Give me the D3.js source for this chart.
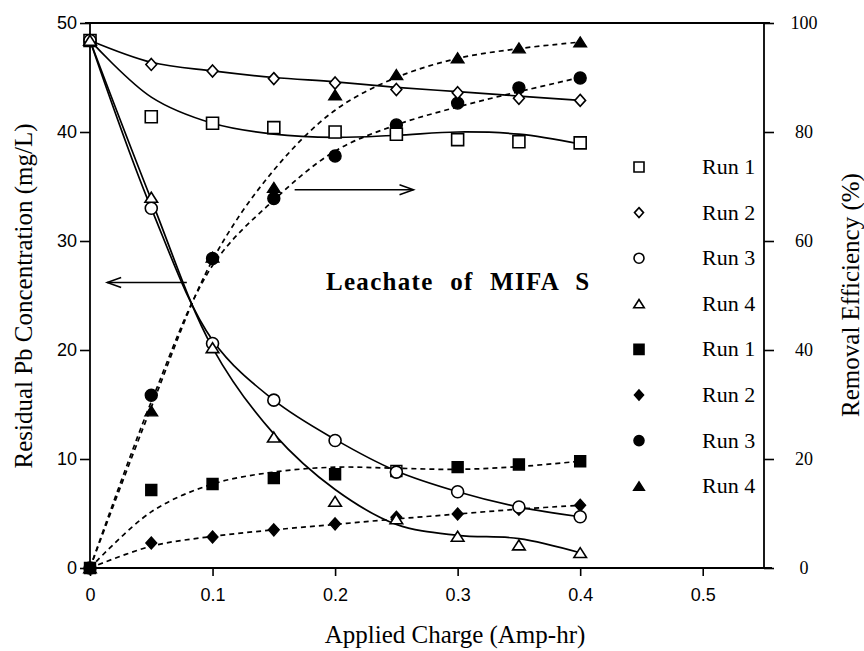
<!DOCTYPE html>
<html>
<head>
<meta charset="utf-8">
<script src="https://cdn.jsdelivr.net/npm/d3@7"></script>
<style>
  body { margin: 0; background: #fff; }
  svg { display: block; }
</style>
</head>
<body>
<div id="chart"></div>
<script>
// ---------------- data ----------------
const charge = [0, 0.05, 0.1, 0.15, 0.2, 0.25, 0.3, 0.35, 0.4];

// residual Pb (mg/L), left axis, open markers
const res1 = [48.4, 41.4, 40.8, 40.4, 40.0, 39.8, 39.3, 39.1, 39.0];
const res2 = [48.4, 46.2, 45.6, 44.9, 44.5, 43.9, 43.6, 43.1, 42.9];
const res3 = [48.4, 33.0, 20.6, 15.4, 11.7, 8.8, 7.0, 5.6, 4.7];
const res4 = [48.4, 34.0, 20.2, 12.0, 6.1, 4.5, 2.9, 2.1, 1.4];

// removal efficiency (%), right axis, filled markers
const eff1 = [0, 14.3, 15.4, 16.5, 17.2, 17.8, 18.5, 19.0, 19.6];
const eff2 = [0, 4.6, 5.7, 7.0, 8.1, 9.3, 9.9, 10.8, 11.5];
const eff3 = [0, 31.7, 56.8, 67.8, 75.6, 81.3, 85.3, 88.1, 89.9];
const eff4 = [0, 28.8, 57.0, 69.8, 86.8, 90.5, 93.6, 95.4, 96.5];

// fitted curves (same charge points)
const fitRes1 = [48.4, 43.2, 40.8, 39.8, 39.5, 39.7, 40.0, 39.8, 38.9];
const fitRes2 = [48.4, 46.4, 45.6, 45.0, 44.6, 44.1, 43.7, 43.3, 42.9];
const fitRes3 = [48.4, 33.0, 20.9, 15.4, 11.8, 8.9, 7.0, 5.6, 4.7];
const fitRes4 = [48.4, 33.8, 20.2, 12.3, 7.2, 4.0, 3.0, 2.7, 1.4];
const fitEff1 = [0, 10.3, 15.4, 17.6, 18.5, 18.3, 18.1, 18.6, 19.6];
const fitEff2 = [0, 4.0, 5.8, 7.0, 8.0, 9.0, 9.9, 10.8, 11.5];
const fitEff3 = [0, 30.5, 55.5, 67.5, 76.5, 81.3, 84.6, 87.4, 90.0];
const fitEff4 = [0, 29.5, 56.5, 73.0, 84.0, 90.0, 93.5, 95.3, 96.5];

const xTicks = [0, 0.1, 0.2, 0.3, 0.4, 0.5];
const leftTicks = [0, 10, 20, 30, 40, 50];
const rightTicks = [0, 20, 40, 60, 80, 100];
const legendLabels = ["Run 1", "Run 2", "Run 3", "Run 4", "Run 1", "Run 2", "Run 3", "Run 4"];
const shapes = ["square", "diamond", "circle", "triangle"];

// ---------------- setup ----------------
const W = 864, H = 651;
const svg = d3.select("#chart").append("svg")
  .attr("width", W).attr("height", H);

const x = d3.scaleLinear().domain([0, 0.55]).range([90, 764]);
const yL = d3.scaleLinear().domain([0, 50]).range([568, 23]);
const yR = d3.scaleLinear().domain([0, 100]).range([568, 23]);

const serif = "'Liberation Serif', 'Times New Roman', serif";
const sans = "'Liberation Sans', Arial, sans-serif";

// marker paths, centred at 0,0
function shapePath(kind, s) {
  const h = s / 2;
  if (kind === "square") return `M${-h},${-h}H${h}V${h}H${-h}Z`;
  if (kind === "diamond") return `M0,${-h}L${h * 0.9},0L0,${h}L${-h * 0.9},0Z`;
  if (kind === "triangle") return `M0,${-h * 0.85}L${h * 1.05},${h * 0.8}L${-h * 1.05},${h * 0.8}Z`;
  return `M${h},0A${h},${h} 0 1,1 ${-h},0A${h},${h} 0 1,1 ${h},0Z`;
}

// ---------------- frame + axes ----------------
const axisL = svg.append("g").attr("transform", `translate(${x(0)},0)`)
  .call(d3.axisLeft(yL).tickValues(leftTicks).tickSize(10).tickPadding(3));
const axisR = svg.append("g").attr("transform", `translate(${x(0.55)},0)`)
  .call(d3.axisRight(yR).tickValues(rightTicks).tickSize(10));
const axisB = svg.append("g").attr("transform", `translate(0,${yL(0)})`)
  .call(d3.axisBottom(x).tickValues(xTicks).tickSize(8).tickPadding(12)
    .tickFormat(d => d === 0 ? "0" : d3.format(".1f")(d)));

[axisL, axisR, axisB].forEach(a => {
  a.select(".domain").remove();
  a.selectAll("line").attr("stroke", "#000").attr("stroke-width", 1.6);
  a.selectAll("text").attr("fill", "#000").style("font-size", "18px");
});
axisL.selectAll("text").style("font-family", sans);
axisB.selectAll("text").style("font-family", sans);
axisR.selectAll("text").style("font-family", serif)
  .attr("text-anchor", "middle").attr("x", 40);

const frame = svg.append("g").attr("stroke", "#000").attr("stroke-width", 1.8);
frame.append("line").attr("x1", x(0) - 5).attr("x2", x(0.55) + 6).attr("y1", yL(50)).attr("y2", yL(50));
frame.append("line").attr("x1", x(0) - 6).attr("x2", x(0.55) + 8).attr("y1", yL(0)).attr("y2", yL(0));
frame.append("line").attr("x1", x(0)).attr("x2", x(0)).attr("y1", yL(50)).attr("y2", yL(0));
frame.append("line").attr("x1", x(0.55)).attr("x2", x(0.55)).attr("y1", yL(50)).attr("y2", yL(0));

// ---------------- axis titles ----------------
svg.append("text")
  .attr("x", 455).attr("y", 643)
  .attr("text-anchor", "middle")
  .style("font-family", serif).style("font-size", "25px")
  .text("Applied Charge (Amp-hr)");

svg.append("text")
  .attr("transform", "translate(32,296) rotate(-90)")
  .attr("text-anchor", "middle")
  .style("font-family", serif).style("font-size", "25px")
  .text("Residual Pb Concentration (mg/L)");

svg.append("text")
  .attr("transform", "translate(859,295) rotate(-90)")
  .attr("text-anchor", "middle")
  .style("font-family", serif).style("font-size", "25px")
  .text("Removal Efficiency (%)");

// ---------------- curves ----------------
const resFits = [fitRes1, fitRes2, fitRes3, fitRes4];
const effFits = [fitEff1, fitEff2, fitEff3, fitEff4];
const gCurves = svg.append("g").attr("fill", "none").attr("stroke", "#000").attr("stroke-width", 1.7);

const lineL = d3.line().x((d, i) => x(charge[i])).y(d => yL(d)).curve(d3.curveCatmullRom.alpha(0.5));
const lineR = d3.line().x((d, i) => x(charge[i])).y(d => yR(d)).curve(d3.curveCatmullRom.alpha(0.5));

resFits.forEach(f => gCurves.append("path").attr("d", lineL(f)));
effFits.forEach(f => gCurves.append("path").attr("d", lineR(f)).attr("stroke-dasharray", "5,4"));

// ---------------- markers ----------------
const gMarks = svg.append("g");
const resSeries = [res1, res2, res3, res4];
const effSeries = [eff1, eff2, eff3, eff4];

effSeries.forEach((s, k) => {
  gMarks.selectAll(null).data(s).enter().append("path")
    .attr("transform", (d, i) => `translate(${x(charge[i])},${yR(d)})`)
    .attr("d", shapePath(shapes[k], k === 0 ? 11 : 12))
    // run 1 at 0.25 is printed hollow in the source figure
    .attr("fill", (d, i) => (k === 0 && i === 5) ? "#fff" : "#000")
    .attr("stroke", "#000").attr("stroke-width", 1.4);
});

resSeries.forEach((s, k) => {
  gMarks.selectAll(null).data(s).enter().append("path")
    .attr("transform", (d, i) => `translate(${x(charge[i])},${yL(d)})`)
    .attr("d", shapePath(shapes[k], 12))
    .attr("fill", "#fff")
    .attr("stroke", "#000").attr("stroke-width", 1.6);
});

// ---------------- arrows ----------------
function arrow(x1, y1, x2, y2) {
  const g = svg.append("g").attr("stroke", "#000").attr("stroke-width", 1.5).attr("fill", "none");
  g.append("line").attr("x1", x1).attr("y1", y1).attr("x2", x2).attr("y2", y2);
  const dir = Math.sign(x2 - x1);
  g.append("path").attr("d", `M${x2 - dir * 14},${y2 - 5}L${x2},${y2}L${x2 - dir * 14},${y2 + 5}`);
}
arrow(x(0.079), yL(26.2), x(0.014), yL(26.2));
arrow(x(0.167), yR(69.4), x(0.264), yR(69.4));

// ---------------- annotation ----------------
svg.append("text")
  .attr("x", 326).attr("y", 290)
  .style("font-family", serif).style("font-size", "25px").style("font-weight", "bold")
  .style("letter-spacing", "1.3px").style("word-spacing", "9px")
  .text("Leachate of MIFA S");

// ---------------- legend ----------------
const legend = svg.append("g");
legendLabels.forEach((lab, i) => {
  const ly = 167 + i * 45.6;
  const filled = i >= 4;
  legend.append("path")
    .attr("transform", `translate(639,${ly})`)
    .attr("d", shapePath(shapes[i % 4], 10))
    .attr("fill", filled ? "#000" : "#fff")
    .attr("stroke", "#000").attr("stroke-width", 1.6);
  legend.append("text")
    .attr("x", 702).attr("y", ly + 7)
    .style("font-family", serif).style("font-size", "22px")
    .text(lab);
});
</script>
</body>
</html>
